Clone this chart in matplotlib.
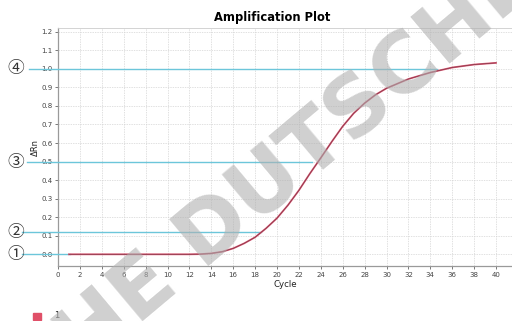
import numpy as np
import matplotlib.pyplot as plt

# data
cycles = [1, 4, 8, 12, 13, 14, 15, 16, 17, 18, 19, 20, 21, 22, 23, 24, 25, 26, 27,
          28, 29, 30, 31, 32, 34, 36, 38, 40]
drn = [0.0, 0.0, 0.0, 0.0, 0.001, 0.005, 0.014, 0.032, 0.059, 0.092, 0.14, 0.195,
       0.265, 0.345, 0.435, 0.52, 0.607, 0.69, 0.76, 0.815, 0.86, 0.895, 0.92,
       0.945, 0.98, 1.007, 1.023, 1.032]

# annotation lines: level, start cycle, end cycle, label
ref_levels = [0.0, 0.12, 0.496, 1.0]
ref_start = [-3.3, -3.3, -2.85, -2.65]
ref_end = [1.1, 18.5, 23.2, 34.6]
ref_labels = ['①', '②', '③', '④']

xticks = list(range(0, 41, 2))
yticks = [round(v * 0.1, 1) for v in range(0, 13)]

fig = plt.figure(figsize=(5.12, 3.21), dpi=100)
ax = fig.add_axes([58 / 512, 55 / 321, 1 - 58 / 512, 238 / 321])

ax.set_xlim(0, 41.46)
ax.set_ylim(-0.063, 1.22)
ax.set_xticks(xticks)
ax.set_yticks(yticks)
ax.set_yticklabels(['%.1f' % v for v in yticks])
ax.tick_params(labelsize=5, colors='#444444', length=2, width=0.5, pad=2)
ax.grid(True, ls=(0, (2, 1.5)), lw=0.5, color='#d4d4d4')
for s in ['left', 'bottom']:
    ax.spines[s].set_color('#9a9a9a')
    ax.spines[s].set_linewidth(0.9)
ax.spines['top'].set_color('#cccccc')
ax.spines['top'].set_linewidth(0.6)
ax.spines['right'].set_visible(False)

# reference lines with circled labels
for lv, x0, x1, lab in zip(ref_levels, ref_start, ref_end, ref_labels):
    ax.plot([x0, x1], [lv, lv], color='#6cc6da', lw=1.0, clip_on=False, zorder=3)
    ax.text(-3.85, lv, lab, ha='center', va='center', fontsize=12, color='#333333',
            family=['DejaVu Serif', 'Noto Sans CJK SC'], clip_on=False)

# amplification curve
ax.plot(cycles, drn, color='#e0607a', lw=1.3, zorder=4)
ax.plot(cycles, drn, color='#8a3a4c', lw=0.6, zorder=5)

ax.set_xlabel('Cycle', fontsize=6.2, color='#222222', labelpad=2)
ax.set_ylabel('ΔRn', fontsize=6, color='#222222', labelpad=1)

fig.text(272 / 512, 1 - 18 / 321, 'Amplification Plot', ha='center', va='center',
         fontsize=8.3, fontweight='bold')

# legend
fig.patches.append(plt.Rectangle((33 / 512, 1 - 320 / 321), 7.5 / 512, 7.5 / 321,
                                 transform=fig.transFigure, color='#e05068'))
fig.text(54 / 512, 1 - 316 / 321, '1', fontsize=6, va='center', color='#333333')

# watermark
fig.text(300 / 512, 1 - 158 / 321, 'THE DUTSCHER', rotation=40, rotation_mode='anchor',
         ha='center', va='center', fontsize=60, fontweight='bold', color='#b0b0b0',
         alpha=0.6, zorder=10)

fig.savefig('out.png', dpi=100)
